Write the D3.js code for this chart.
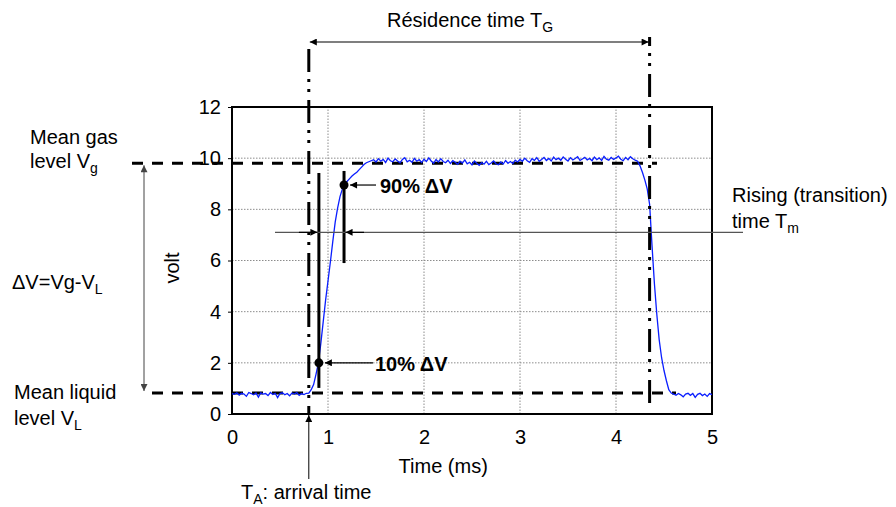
<!DOCTYPE html>
<html>
<head>
<meta charset="utf-8">
<script src="https://cdn.jsdelivr.net/npm/d3@7/dist/d3.min.js"></script>
<style>
  html, body { margin: 0; padding: 0; background: #fff; }
  svg { display: block; }
  text { font-family: "Liberation Sans", Arial, sans-serif; fill: #000; }
</style>
</head>
<body>
<svg id="chart" width="896" height="507"></svg>
<script>
// Axis ticks
const timeTicks = [0, 1, 2, 3, 4, 5];
const voltTicks = [0, 2, 4, 6, 8, 10, 12];

// Probe signal (volt), sampled every 0.025 ms
const sampleStep = 0.025;
const baselineBefore = [0.80, 0.77, 0.83, 0.74, 0.81, 0.78, 0.69, 0.84, 0.80, 0.75, 0.82, 0.66, 0.83, 0.78, 0.80, 0.72,
  0.84, 0.76, 0.81, 0.64, 0.80, 0.83, 0.75, 0.80, 0.71, 0.82, 0.78, 0.84, 0.73, 0.80, 0.76, 0.81];         // from 0 ms
const riseTrace = [0.82, 0.95, 1.15, 1.55, 2.0, 2.75, 3.6, 4.45, 5.2, 5.95, 6.75, 7.5, 8.05, 8.5, 8.8, 9.0, 9.1,
  9.2, 9.3, 9.38, 9.45, 9.55, 9.65, 9.75, 9.82, 9.86, 9.9];                                                 // from 0.8 ms
const plateauTrace = [
  9.94, 9.85, 9.98, 9.88, 9.95, 9.83, 10.00, 9.90, 9.86, 9.97,
  9.89, 9.82, 9.95, 10.02, 9.86, 9.92, 9.84, 9.99, 9.88, 9.94,
  9.83, 9.96, 9.87, 10.01, 9.89, 9.80, 9.95, 9.85, 9.98, 9.87,
  9.82, 9.92, 9.79, 9.90, 9.84, 9.76, 9.88, 9.81, 9.93, 9.78,
  9.84, 9.74, 9.89, 9.80, 9.72, 9.83, 9.77, 9.88, 9.75, 9.81,
  9.89, 9.78, 9.74, 9.85, 9.77, 9.91, 9.80, 9.87, 9.79, 9.92,
  9.85, 9.95, 9.88, 10.00, 9.90, 9.84, 9.98, 9.91, 10.02, 9.88,
  9.95, 10.03, 9.91, 9.99, 9.89, 10.04, 9.94, 10.00, 9.92, 10.05,
  9.96, 9.89, 10.02, 9.93, 9.99, 10.06, 9.91, 9.97, 10.03, 9.93,
  9.99, 9.90, 10.04, 9.94, 10.01, 9.91, 10.07, 9.96, 9.92, 10.03,
  9.95, 10.01, 10.08, 9.96, 9.90, 10.03, 9.94, 10.06, 9.98, 9.92,
  9.88];                                                                                                    // from 1.475 ms
const fallTrace = [9.7, 9.45, 9.15, 8.8, 8.2, 6.6, 5.1, 3.9, 2.9, 2.2, 1.7, 1.3, 0.95, 0.82];             // from 4.25 ms
const baselineAfter = [0.78, 0.73, 0.80, 0.75, 0.67, 0.78, 0.81, 0.73, 0.80, 0.65, 0.77, 0.81, 0.72, 0.78,
  0.69, 0.80, 0.76];                                                                                        // from 4.6 ms
const segmentStarts = [0, 0.8, 1.475, 4.25, 4.6];
const segments = [baselineBefore, riseTrace, plateauTrace, fallTrace, baselineAfter];

// Characteristic levels and times
const meanGasLevel = 9.8;
const meanLiquidLevel = 0.82;
const arrivalTime = 0.8;
const exitTime = 4.35;
const point10 = { t: 0.905, v: 2.0 };
const point90 = { t: 1.167, v: 8.95 };
const riseLineLevel = 7.1;

const signal = [];
segments.forEach((vals, s) => {
  vals.forEach((v, i) => signal.push({ t: segmentStarts[s] + i * sampleStep, v }));
});

const svg = d3.select("#chart");
const x = d3.scaleLinear().domain([0, 5]).range([232, 712]);
const y = d3.scaleLinear().domain([0, 12]).range([414, 107]);
const FS = 20;
const SUB = 14;

// arrowhead marker
const defs = svg.append("defs");
function marker(id, color) {
  defs.append("marker").attr("id", id)
    .attr("viewBox", "0 0 10 10").attr("refX", 10).attr("refY", 5)
    .attr("markerUnits", "userSpaceOnUse")
    .attr("markerWidth", 9).attr("markerHeight", 7)
    .attr("orient", "auto-start-reverse")
    .append("path").attr("d", "M0,0L10,5L0,10Z").attr("fill", color);
}
marker("arrBlack", "#000");
marker("arrGray", "#444");

// grid
const grid = svg.append("g").attr("stroke", "#8c8c8c").attr("stroke-width", 1).attr("stroke-dasharray", "1.5,1.5");
grid.selectAll("line.gx").data(timeTicks.slice(1, -1)).join("line")
  .attr("x1", d => x(d)).attr("x2", d => x(d)).attr("y1", y(0)).attr("y2", y(12));
grid.selectAll("line.gy").data(voltTicks.slice(1, -1)).join("line")
  .attr("x1", x(0)).attr("x2", x(5)).attr("y1", d => y(d)).attr("y2", d => y(d));

// axes
const xAxis = svg.append("g").attr("transform", `translate(0,${y(0)})`)
  .call(d3.axisBottom(x).tickValues(timeTicks).tickFormat(d3.format("d")).tickSize(0).tickPadding(16));
const yAxis = svg.append("g").attr("transform", `translate(${x(0)},0)`)
  .call(d3.axisLeft(y).tickValues(voltTicks).tickFormat(d3.format("d")).tickSize(4).tickPadding(7));
[xAxis, yAxis].forEach(a => {
  a.select(".domain").remove();
  a.selectAll("text").style("font-size", FS + "px").style("font-family", "'Liberation Sans', Arial, sans-serif").attr("fill", "#000");
  a.selectAll("line").attr("stroke", "#000");
});

// plot frame
svg.append("rect").attr("x", x(0)).attr("y", y(12)).attr("width", x(5) - x(0)).attr("height", y(0) - y(12))
  .attr("fill", "none").attr("stroke", "#000").attr("stroke-width", 2);

// mean level dashed lines
svg.append("line").attr("x1", 132).attr("x2", 657).attr("y1", y(meanGasLevel)).attr("y2", y(meanGasLevel))
  .attr("stroke", "#000").attr("stroke-width", 3).attr("stroke-dasharray", "11,9");
svg.append("line").attr("x1", 152).attr("x2", 676).attr("y1", y(meanLiquidLevel)).attr("y2", y(meanLiquidLevel))
  .attr("stroke", "#000").attr("stroke-width", 3).attr("stroke-dasharray", "11,9");

// signal trace
svg.append("path").datum(signal)
  .attr("d", d3.line().x(d => x(d.t)).y(d => y(d.v)))
  .attr("fill", "none").attr("stroke", "#0a1eff").attr("stroke-width", 1.3);

// arrival / exit dash-dot-dot lines
svg.append("line").attr("x1", x(arrivalTime)).attr("x2", x(arrivalTime)).attr("y1", 49).attr("y2", y(0))
  .attr("stroke", "#000").attr("stroke-width", 3).attr("stroke-dasharray", "23,7,3,7,3,8");
svg.append("line").attr("x1", x(exitTime)).attr("x2", x(exitTime)).attr("y1", 37).attr("y2", y(0) - 8)
  .attr("stroke", "#000").attr("stroke-width", 3).attr("stroke-dasharray", "23,7,3,7,3,8").attr("stroke-dashoffset", 14);

// residence time arrow
svg.append("line").attr("x1", x(arrivalTime) + 1).attr("x2", x(exitTime) - 1).attr("y1", 42).attr("y2", 42)
  .attr("stroke", "#000").attr("stroke-width", 1.2)
  .attr("marker-start", "url(#arrBlack)").attr("marker-end", "url(#arrBlack)");
svg.append("text").attr("x", 387).attr("y", 27).style("font-size", FS + "px")
  .text("Résidence time T").append("tspan").attr("dy", 5).style("font-size", SUB + "px").text("G");

// 10% / 90% markers
svg.append("line").attr("x1", x(point10.t)).attr("x2", x(point10.t)).attr("y1", y(9.42)).attr("y2", y(1.02))
  .attr("stroke", "#000").attr("stroke-width", 3);
svg.append("line").attr("x1", x(point90.t)).attr("x2", x(point90.t)).attr("y1", y(9.5)).attr("y2", y(5.9))
  .attr("stroke", "#000").attr("stroke-width", 3);
svg.selectAll("circle.pt").data([point10, point90]).join("circle")
  .attr("cx", d => x(d.t)).attr("cy", d => y(d.v)).attr("r", 4.5).attr("fill", "#000");
svg.append("line").attr("x1", 373).attr("x2", x(point10.t) + 6).attr("y1", y(point10.v)).attr("y2", y(point10.v))
  .attr("stroke", "#000").attr("stroke-width", 1.2).attr("marker-end", "url(#arrBlack)");
svg.append("line").attr("x1", 376).attr("x2", x(point90.t) + 6).attr("y1", y(point90.v)).attr("y2", y(point90.v))
  .attr("stroke", "#000").attr("stroke-width", 1.2).attr("marker-end", "url(#arrBlack)");
svg.append("text").attr("x", 380).attr("y", y(point90.v) + 8).style("font-size", FS + "px").style("font-weight", "bold").text("90% ΔV");
svg.append("text").attr("x", 375).attr("y", y(point10.v) + 8).style("font-size", FS + "px").style("font-weight", "bold").text("10% ΔV");

// rising time line with inward arrowheads
const ry = y(riseLineLevel);
svg.append("line").attr("x1", 275).attr("x2", 743).attr("y1", ry).attr("y2", ry)
  .attr("stroke", "#555").attr("stroke-width", 1.3);
svg.append("line").attr("x1", x(point10.t) - 20).attr("x2", x(point10.t) - 1.5).attr("y1", ry).attr("y2", ry)
  .attr("stroke", "#000").attr("stroke-width", 1.2).attr("marker-end", "url(#arrBlack)");
svg.append("line").attr("x1", x(point90.t) + 20).attr("x2", x(point90.t) + 1.5).attr("y1", ry).attr("y2", ry)
  .attr("stroke", "#000").attr("stroke-width", 1.2).attr("marker-end", "url(#arrBlack)");
svg.append("text").attr("x", 732).attr("y", 202).style("font-size", FS + "px").text("Rising (transition)");
const rt2 = svg.append("text").attr("x", 732).attr("y", 228).style("font-size", FS + "px").text("time T");
rt2.append("tspan").attr("dy", 5).style("font-size", SUB + "px").text("m");

// ΔV arrow and left labels
svg.append("line").attr("x1", 144).attr("x2", 144).attr("y1", y(meanGasLevel) + 2).attr("y2", y(meanLiquidLevel) - 2)
  .attr("stroke", "#444").attr("stroke-width", 1)
  .attr("marker-start", "url(#arrGray)").attr("marker-end", "url(#arrGray)");
svg.append("text").attr("x", 30).attr("y", 144).style("font-size", FS + "px").text("Mean gas");
const lg = svg.append("text").attr("x", 30).attr("y", 168).style("font-size", FS + "px").text("level V");
lg.append("tspan").attr("dy", 5).style("font-size", SUB + "px").text("g");
const dv = svg.append("text").attr("x", 12).attr("y", 289).style("font-size", FS + "px").text("ΔV=Vg-V");
dv.append("tspan").attr("dy", 5).style("font-size", SUB + "px").text("L");
svg.append("text").attr("x", 14).attr("y", 399).style("font-size", FS + "px").text("Mean liquid");
const ll = svg.append("text").attr("x", 14).attr("y", 425).style("font-size", FS + "px").text("level V");
ll.append("tspan").attr("dy", 5).style("font-size", SUB + "px").text("L");

// axis titles
svg.append("text").attr("transform", "translate(179,268) rotate(-90)").attr("text-anchor", "middle")
  .style("font-size", FS + "px").text("volt");
svg.append("text").attr("x", x(2.2)).attr("y", 473).attr("text-anchor", "middle")
  .style("font-size", FS + "px").text("Time (ms)");

// arrival time arrow
svg.append("line").attr("x1", x(arrivalTime)).attr("x2", x(arrivalTime)).attr("y1", 479).attr("y2", y(0) + 1)
  .attr("stroke", "#000").attr("stroke-width", 1).attr("marker-end", "url(#arrBlack)");
const ta = svg.append("text").attr("x", 241).attr("y", 499).style("font-size", FS + "px").text("T");
ta.append("tspan").attr("dy", 5).style("font-size", SUB + "px").text("A");
ta.append("tspan").attr("dy", -5).text(": arrival time");
</script>
</body>
</html>
